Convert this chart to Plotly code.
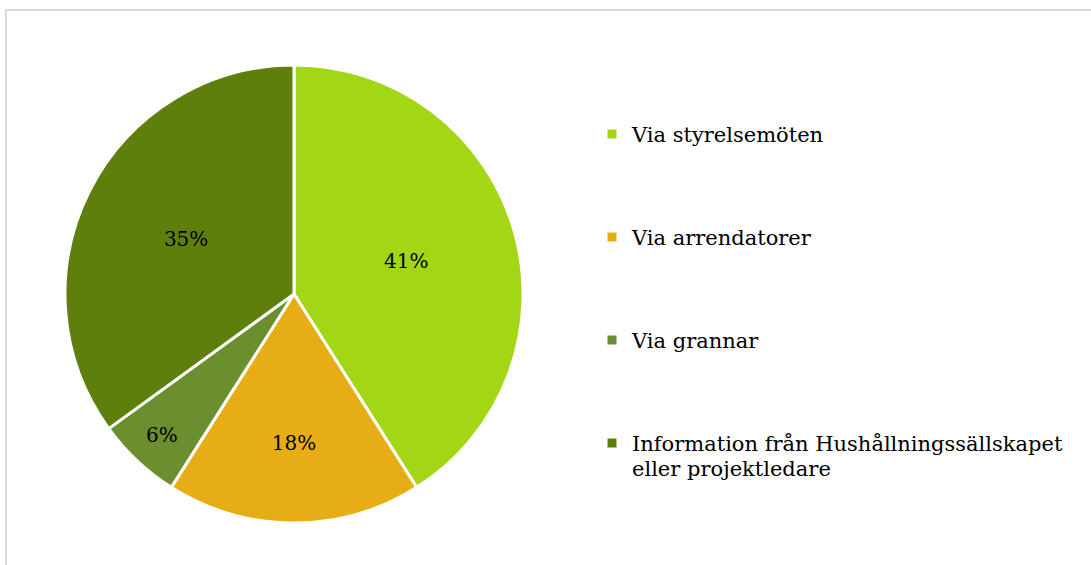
import plotly.graph_objects as go

categories = [
    "Via styrelsemöten",
    "Via arrendatorer",
    "Via grannar",
    "Information från Hushållningssällskapet<br>eller projektledare",
]
values = [41, 18, 6, 35]
colors = ["#A3D614", "#E6AE14", "#6B8E2E", "#5F7F0C"]

W, H = 1091, 565
FONT = "Georgia, 'DejaVu Serif', serif"
LEG_LINES = 4


def legend_label(name):
    parts = name.split("<br>")
    lines = ['<span style="font-size:21px">%s</span>' % p for p in parts]
    while len(lines) < LEG_LINES:
        lines.append("&nbsp;")
    return "<br>".join(lines)


labels = [legend_label(c) for c in categories]

fig = go.Figure(
    go.Pie(
        labels=labels,
        values=values,
        sort=False,
        direction="clockwise",
        rotation=0,
        marker=dict(colors=colors, line=dict(color="white", width=3)),
        textinfo="percent",
        textposition="inside",
        insidetextorientation="horizontal",
        textfont=dict(family=FONT, size=20, color="black"),
        domain=dict(x=[65 / W, 523 / W], y=[1 - 523 / H, 1 - 65 / H]),
        hoverinfo="label+percent",
    )
)

fig.update_layout(
    width=W,
    height=H,
    margin=dict(l=0, r=0, t=0, b=0),
    paper_bgcolor="white",
    plot_bgcolor="white",
    font=dict(family=FONT, color="black"),
    showlegend=True,
    legend=dict(
        x=592 / W,
        y=1 - 115 / H,
        xanchor="left",
        yanchor="top",
        valign="top",
        font=dict(family=FONT, size=19.23, color="black"),
        bgcolor="rgba(0,0,0,0)",
    ),
    shapes=[
        dict(
            type="rect",
            xref="paper",
            yref="paper",
            x0=6 / W,
            x1=1.02,
            y0=-0.02,
            y1=1 - 10 / H,
            line=dict(color="#D9D9D9", width=2),
            fillcolor="rgba(0,0,0,0)",
            layer="below",
        )
    ],
)

fig.write_html("out.html")
